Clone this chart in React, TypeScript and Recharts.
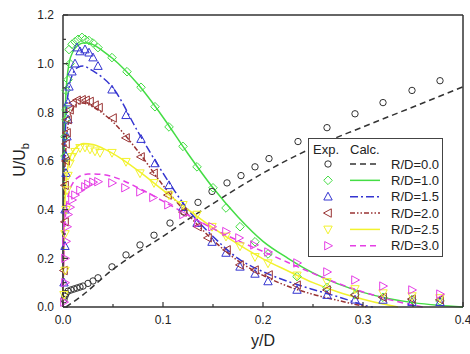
import React from 'react';
import { ComposedChart, Line, Scatter, XAxis, YAxis } from 'recharts';

type Pt = [number, number];

// Exp. — measured points (y/D, U/Ub)
const exp00: Pt[] = [
  [0.001, 0.03], [0.002, 0.045], [0.003, 0.055], [0.005, 0.065], [0.008, 0.07], [0.011, 0.074],
  [0.014, 0.078], [0.017, 0.082], [0.02, 0.086], [0.025, 0.097], [0.03, 0.107], [0.035, 0.12],
  [0.049, 0.165], [0.063, 0.214], [0.077, 0.255], [0.091, 0.295], [0.107, 0.345], [0.121, 0.39],
  [0.135, 0.43], [0.149, 0.475], [0.164, 0.51], [0.178, 0.54], [0.192, 0.576], [0.206, 0.61],
  [0.235, 0.68], [0.264, 0.737], [0.292, 0.794], [0.32, 0.84], [0.349, 0.89], [0.377, 0.93],
];
const exp10: Pt[] = [
  [0.002, 0.62], [0.002, 0.7], [0.003, 0.77], [0.003, 0.81], [0.003, 0.89], [0.005, 0.934],
  [0.007, 1.0], [0.006, 1.058], [0.009, 1.08], [0.012, 1.09], [0.015, 1.1], [0.019, 1.108],
  [0.022, 1.1], [0.026, 1.095], [0.03, 1.085], [0.035, 1.066], [0.049, 1.025], [0.064, 0.967],
  [0.078, 0.903], [0.092, 0.823], [0.106, 0.74], [0.12, 0.66], [0.134, 0.576], [0.15, 0.49],
  [0.163, 0.407], [0.177, 0.33], [0.192, 0.268], [0.205, 0.218], [0.234, 0.125], [0.264, 0.08],
  [0.292, 0.05], [0.32, 0.04], [0.349, 0.03], [0.377, 0.025],
];
const exp15: Pt[] = [
  [0.001, 0.1], [0.002, 0.25], [0.002, 0.4], [0.003, 0.55], [0.003, 0.62], [0.004, 0.7],
  [0.005, 0.77], [0.005, 0.84], [0.006, 0.905], [0.009, 0.967], [0.012, 1.0], [0.014, 1.066],
  [0.017, 1.05], [0.022, 1.058], [0.026, 1.045], [0.03, 1.025], [0.035, 0.99], [0.049, 0.893],
  [0.063, 0.788], [0.078, 0.69], [0.092, 0.59], [0.106, 0.5], [0.12, 0.41], [0.134, 0.345],
  [0.149, 0.267], [0.163, 0.222], [0.177, 0.165], [0.192, 0.136], [0.205, 0.105], [0.234, 0.07],
  [0.264, 0.049], [0.292, 0.03], [0.32, 0.029], [0.349, 0.02], [0.377, 0.02],
];
const exp20: Pt[] = [
  [0.001, 0.15], [0.002, 0.35], [0.002, 0.5], [0.003, 0.6], [0.003, 0.67], [0.004, 0.716],
  [0.005, 0.77], [0.007, 0.81], [0.01, 0.838], [0.014, 0.85], [0.019, 0.852], [0.023, 0.85],
  [0.027, 0.845], [0.032, 0.83], [0.036, 0.82], [0.05, 0.777], [0.063, 0.695], [0.078, 0.617],
  [0.091, 0.55], [0.105, 0.46], [0.12, 0.39], [0.135, 0.33], [0.145, 0.284], [0.164, 0.235],
  [0.177, 0.173], [0.192, 0.152], [0.206, 0.132], [0.234, 0.09], [0.264, 0.07], [0.292, 0.05],
  [0.32, 0.04], [0.349, 0.033], [0.377, 0.03],
];
const exp25: Pt[] = [
  [0.001, 0.05], [0.002, 0.15], [0.002, 0.3], [0.003, 0.4], [0.004, 0.48], [0.005, 0.54],
  [0.007, 0.59], [0.009, 0.617], [0.012, 0.638], [0.017, 0.654], [0.022, 0.656], [0.027, 0.648],
  [0.032, 0.64], [0.037, 0.634], [0.049, 0.634], [0.063, 0.597], [0.077, 0.55], [0.091, 0.51],
  [0.106, 0.46], [0.12, 0.42], [0.134, 0.38], [0.149, 0.33], [0.163, 0.29], [0.177, 0.25],
  [0.192, 0.206], [0.205, 0.18], [0.234, 0.13], [0.264, 0.103], [0.292, 0.074], [0.32, 0.057],
  [0.349, 0.045], [0.377, 0.037],
];
const exp30: Pt[] = [
  [0.001, 0.02], [0.002, 0.1], [0.002, 0.2], [0.003, 0.27], [0.004, 0.33], [0.005, 0.38],
  [0.007, 0.41], [0.009, 0.44], [0.012, 0.46], [0.017, 0.48], [0.022, 0.494], [0.025, 0.505],
  [0.03, 0.513], [0.035, 0.515], [0.049, 0.51], [0.062, 0.49], [0.077, 0.473], [0.09, 0.45],
  [0.105, 0.42], [0.12, 0.38], [0.135, 0.345], [0.149, 0.33], [0.163, 0.31], [0.176, 0.284],
  [0.191, 0.255], [0.205, 0.226], [0.234, 0.181], [0.264, 0.144], [0.292, 0.111], [0.32, 0.086],
  [0.349, 0.07], [0.377, 0.053],
];

// Calc. — computed profiles
const calc00: Pt[] = [
  [0.003, 0], [0.02, 0.05], [0.05, 0.155], [0.075, 0.225], [0.1, 0.29], [0.125, 0.36],
  [0.15, 0.425], [0.175, 0.49], [0.2, 0.55], [0.25, 0.655], [0.3, 0.74], [0.35, 0.822], [0.4, 0.905],
];
const calc10: Pt[] = [
  [0, 0], [0.001, 0.6], [0.003, 0.88], [0.006, 1.0], [0.01, 1.05], [0.015, 1.075], [0.02, 1.085],
  [0.025, 1.085], [0.03, 1.078], [0.04, 1.052], [0.05, 1.02], [0.075, 0.915], [0.1, 0.78],
  [0.125, 0.63], [0.15, 0.49], [0.175, 0.37], [0.2, 0.27], [0.225, 0.2], [0.25, 0.14],
  [0.275, 0.095], [0.3, 0.06], [0.325, 0.035], [0.35, 0.018], [0.375, 0.007], [0.4, 0],
];
const calc15: Pt[] = [
  [0, 0], [0.001, 0.5], [0.003, 0.78], [0.006, 0.9], [0.01, 0.96], [0.015, 0.985], [0.02, 0.99],
  [0.03, 0.97], [0.05, 0.9], [0.075, 0.72], [0.1, 0.55], [0.125, 0.4], [0.15, 0.29], [0.175, 0.2],
  [0.2, 0.145], [0.225, 0.105], [0.25, 0.072], [0.275, 0.042], [0.29, 0.022], [0.3, 0.008], [0.31, 0],
];
const calc20: Pt[] = [
  [0, 0], [0.001, 0.42], [0.003, 0.66], [0.006, 0.77], [0.01, 0.815], [0.015, 0.835], [0.02, 0.838],
  [0.03, 0.822], [0.05, 0.76], [0.075, 0.64], [0.1, 0.5], [0.125, 0.38], [0.15, 0.275], [0.175, 0.19],
  [0.2, 0.13], [0.225, 0.085], [0.25, 0.052], [0.275, 0.027], [0.295, 0.008], [0.305, 0],
];
const calc25: Pt[] = [
  [0, 0], [0.001, 0.32], [0.003, 0.5], [0.006, 0.6], [0.01, 0.64], [0.015, 0.662], [0.02, 0.672],
  [0.03, 0.668], [0.04, 0.652], [0.06, 0.605], [0.08, 0.545], [0.1, 0.48], [0.125, 0.4], [0.15, 0.325],
  [0.175, 0.258], [0.2, 0.198], [0.225, 0.148], [0.25, 0.1], [0.275, 0.062], [0.3, 0.032],
  [0.32, 0.012], [0.335, 0],
];
const calc30: Pt[] = [
  [0, 0], [0.001, 0.25], [0.003, 0.4], [0.006, 0.47], [0.01, 0.51], [0.015, 0.533], [0.02, 0.543],
  [0.025, 0.547], [0.035, 0.546], [0.05, 0.535], [0.075, 0.49], [0.1, 0.435], [0.125, 0.378],
  [0.15, 0.322], [0.175, 0.273], [0.2, 0.228], [0.225, 0.183], [0.25, 0.138], [0.275, 0.097],
  [0.3, 0.062], [0.325, 0.032], [0.345, 0.012], [0.36, 0],
];

const legendLabels = ['R/D=0.0', 'R/D=1.0', 'R/D=1.5', 'R/D=2.0', 'R/D=2.5', 'R/D=3.0'];
const xTicks = [0, 0.05, 0.1, 0.15, 0.2, 0.25, 0.3, 0.35, 0.4];
const yTicks = [0, 0.1, 0.2, 0.3, 0.4, 0.5, 0.6, 0.7, 0.8, 0.9, 1.0, 1.1, 1.2];

const FONT = '"Liberation Sans", Arial, sans-serif';
const AX = '#333';
const TXT = '#222';

type Kind = 'circle' | 'diamond' | 'up' | 'left' | 'down' | 'right';

const series: { name: string; color: string; marker: Kind; dash?: string; exp: Pt[]; calc: Pt[] }[] = [
  { name: legendLabels[0], color: '#333333', marker: 'circle', dash: '6 4', exp: exp00, calc: calc00 },
  { name: legendLabels[1], color: '#44dd44', marker: 'diamond', exp: exp10, calc: calc10 },
  { name: legendLabels[2], color: '#3535d0', marker: 'up', dash: '8 3 2 3', exp: exp15, calc: calc15 },
  { name: legendLabels[3], color: '#993333', marker: 'left', dash: '5 2 1.5 2 1.5 2', exp: exp20, calc: calc20 },
  { name: legendLabels[4], color: '#f2f22e', marker: 'down', exp: exp25, calc: calc25 },
  { name: legendLabels[5], color: '#e53ee5', marker: 'right', dash: '6 4', exp: exp30, calc: calc30 },
];

const toRows = (pts: Pt[]) => pts.map(([x, y]) => ({ x, y }));

function Marker({ kind, cx, cy, color }: { kind: Kind; cx: number; cy: number; color: string }) {
  const common = { fill: 'none', stroke: color, strokeWidth: 1 };
  switch (kind) {
    case 'circle':
      return <circle cx={cx} cy={cy} r={3.2} {...common} />;
    case 'diamond':
      return <polygon points={`${cx},${cy - 4.3} ${cx + 4.3},${cy} ${cx},${cy + 4.3} ${cx - 4.3},${cy}`} {...common} />;
    case 'up':
      return <polygon points={`${cx},${cy - 4.5} ${cx + 4.2},${cy + 3.3} ${cx - 4.2},${cy + 3.3}`} {...common} />;
    case 'down':
      return <polygon points={`${cx},${cy + 4.5} ${cx + 4.2},${cy - 3.3} ${cx - 4.2},${cy - 3.3}`} {...common} />;
    case 'left':
      return <polygon points={`${cx - 4.5},${cy} ${cx + 3.3},${cy - 4.2} ${cx + 3.3},${cy + 4.2}`} {...common} />;
    default:
      return <polygon points={`${cx + 4.5},${cy} ${cx - 3.3},${cy - 4.2} ${cx - 3.3},${cy + 4.2}`} {...common} />;
  }
}

const isMajor = (v: number, step: number) => Math.abs(v / step - Math.round(v / step)) < 1e-6;

// ticks point into the plot; labels only on the major ones
function BottomTick({ x, y, payload }: any) {
  const major = isMajor(payload.value, 0.1);
  return (
    <g>
      <line x1={x} y1={y} x2={x} y2={y - (major ? 5 : 3)} stroke={AX} strokeWidth={1.2} />
      {major && (
        <text x={x} y={y + 17} textAnchor="middle" fontSize={12} fontFamily={FONT} fill={TXT}>
          {payload.value.toFixed(1)}
        </text>
      )}
    </g>
  );
}
function TopTick({ x, y, payload }: any) {
  const major = isMajor(payload.value, 0.1);
  return <line x1={x} y1={y} x2={x} y2={y + (major ? 5 : 3)} stroke={AX} strokeWidth={1.2} />;
}
function LeftTick({ x, y, payload }: any) {
  const major = isMajor(payload.value, 0.2);
  return (
    <g>
      <line x1={x} y1={y} x2={x + (major ? 5 : 3)} y2={y} stroke={AX} strokeWidth={1.2} />
      {major && (
        <text x={x - 9} y={y + 4.3} textAnchor="end" fontSize={12} fontFamily={FONT} fill={TXT}>
          {payload.value.toFixed(1)}
        </text>
      )}
    </g>
  );
}
function RightTick({ x, y, payload }: any) {
  const major = isMajor(payload.value, 0.2);
  return <line x1={x} y1={y} x2={x - (major ? 5 : 3)} y2={y} stroke={AX} strokeWidth={1.2} />;
}

function YTitle() {
  return (
    <text x={25} y={160} transform="rotate(-90, 25, 160)" textAnchor="middle" fontSize={16} fontFamily={FONT} fill={TXT}>
      U/U<tspan fontSize={11} dy={4}>b</tspan>
    </text>
  );
}

function LegendBox() {
  return (
    <svg width={136} height={120} style={{ position: 'absolute', left: 308, top: 138 }}>
      <rect x={0.5} y={0.5} width={134} height={118} fill="#fff" stroke="#444" strokeWidth={1} />
      <text x={5} y={16} fontSize={13} fontFamily={FONT} fill={TXT}>Exp.</text>
      <text x={42} y={16} fontSize={13} fontFamily={FONT} fill={TXT}>Calc.</text>
      {series.map((s, i) => {
        const cy = 26 + i * 16.35;
        return (
          <g key={s.name}>
            <Marker kind={s.marker} cx={20} cy={cy} color={s.color} />
            <line x1={42} y1={cy} x2={72} y2={cy} stroke={s.color} strokeWidth={1.5} strokeDasharray={s.dash} />
            <text x={83} y={cy + 4.7} fontSize={13} fontFamily={FONT} fill={TXT}>{s.name}</text>
          </g>
        );
      })}
    </svg>
  );
}

export default function App() {
  const axisLine = { stroke: AX, strokeWidth: 1.5 };
  return (
    <div style={{ position: 'absolute', left: 0, top: 0, width: 470, height: 354, background: '#fff' }}>
      <ComposedChart width={470} height={354} margin={{ top: 0, right: 0, bottom: 0, left: 0 }}>
        <XAxis
          dataKey="x" type="number" domain={[0, 0.4]} ticks={xTicks} interval={0}
          height={47} tickSize={0} tickMargin={0} tickLine={false} axisLine={axisLine}
          tick={(p: any) => <BottomTick {...p} />}
          label={{ value: 'y/D', position: 'insideBottom', offset: 8, fontSize: 16, fontFamily: FONT, fill: TXT }}
        />
        <XAxis
          xAxisId="top" orientation="top" dataKey="x" type="number" domain={[0, 0.4]} ticks={xTicks}
          interval={0} height={15} tickSize={0} tickMargin={0} tickLine={false} axisLine={axisLine}
          tick={(p: any) => <TopTick {...p} />}
        />
        <YAxis
          dataKey="y" type="number" domain={[0, 1.2]} ticks={yTicks} interval={0}
          width={63} tickSize={0} tickMargin={0} tickLine={false} axisLine={axisLine}
          tick={(p: any) => <LeftTick {...p} />}
          label={{ content: () => <YTitle /> }}
        />
        <YAxis
          yAxisId="right" orientation="right" dataKey="y" type="number" domain={[0, 1.2]} ticks={yTicks}
          interval={0} width={7} tickSize={0} tickMargin={0} tickLine={false} axisLine={axisLine}
          tick={(p: any) => <RightTick {...p} />}
        />
        {series.map((s) => (
          <Line
            key={`calc-${s.name}`} data={toRows(s.calc)} dataKey="y" type="monotone"
            stroke={s.color} strokeWidth={1.5} strokeDasharray={s.dash} dot={false}
            activeDot={false} isAnimationActive={false}
          />
        ))}
        {series.map((s) => (
          <Scatter
            key={`exp-${s.name}`} data={toRows(s.exp)} dataKey="y" isAnimationActive={false}
            shape={(p: any) => <Marker kind={s.marker} cx={p.cx} cy={p.cy} color={s.color} />}
          />
        ))}
      </ComposedChart>
      <LegendBox />
    </div>
  );
}
